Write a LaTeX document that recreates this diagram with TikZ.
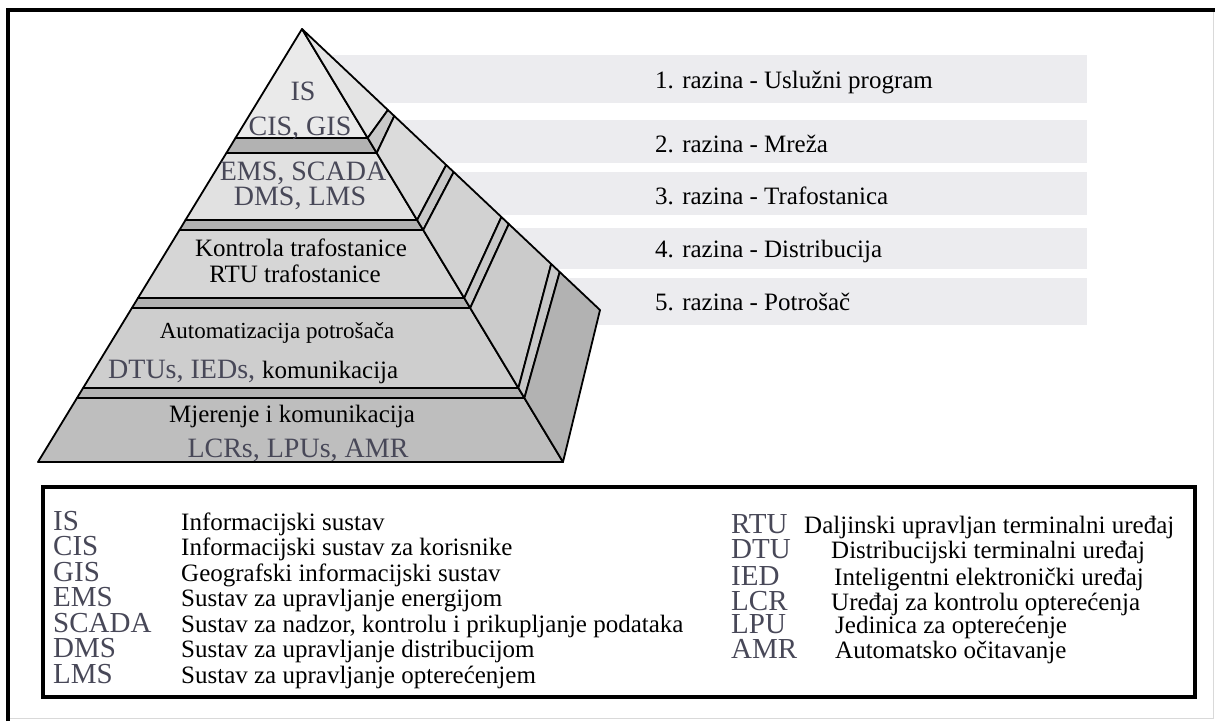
\documentclass[tikz,border=0pt]{standalone}
\usepackage{fontspec}
\setmainfont{Liberation Serif}
\usepackage{tikz}

\definecolor{barGray}{RGB}{236,236,239}
\definecolor{acroGray}{RGB}{72,72,88}
\definecolor{tierA}{RGB}{234,234,234}
\definecolor{tierB}{RGB}{225,225,225}
\definecolor{tierC}{RGB}{214,214,214}
\definecolor{tierD}{RGB}{206,206,206}
\definecolor{tierE}{RGB}{190,190,190}
\definecolor{bandGray}{RGB}{178,178,178}
\definecolor{sideA}{RGB}{228,228,228}
\definecolor{sideB}{RGB}{219,219,219}
\definecolor{sideC}{RGB}{210,210,210}
\definecolor{sideD}{RGB}{203,203,203}
\definecolor{sideE}{RGB}{178,178,178}
\definecolor{stripGray}{RGB}{200,200,200}

\newcommand{\acrofont}{\fontsize{28}{30}\selectfont}
\newcommand{\bodyfont}{\fontsize{25}{27}\selectfont}
\newcommand{\autofont}{\fontsize{23}{25}\selectfont}
\newcommand{\keyfont}{\fontsize{29}{31}\selectfont}

\begin{document}
\begin{tikzpicture}[x=1pt, y=-1pt,
  acro/.style={font=\acrofont, text=acroGray, inner sep=0pt, anchor=base},
  lbl/.style={font=\bodyfont, text=black, inner sep=0pt, anchor=base},
  lvl/.style={font=\bodyfont, text=black, inner sep=0pt, anchor=base west},
  keyabbr/.style={font=\keyfont, text=acroGray, inner sep=0pt, anchor=base west},
  keytext/.style={font=\bodyfont, text=black, inner sep=0pt, anchor=base west},
  edge/.style={draw=black, line width=1.8pt, line join=round}]
  \useasboundingbox (0,0) rectangle (1215,721);
  \fill[white] (0,0) rectangle (1215,721);
  % outer frame
  \draw[black!15, line width=1pt] (1213,10) -- (1213,718) -- (8,718);
  \draw[black, line width=3.5pt] (8,721) -- (8,10) -- (1215,10);
  % level bars behind the pyramid
  \fill[barGray] (320,55) rectangle (1087,103);
  \fill[barGray] (320,120) rectangle (1087,163);
  \fill[barGray] (320,172) rectangle (1087,215);
  \fill[barGray] (320,228) rectangle (1087,269);
  \fill[barGray] (320,278) rectangle (1087,325);
  % pyramid points
  \coordinate (apex) at (302,29);
  \coordinate (L1a) at (235.5,138); \coordinate (R1a) at (367.7,138);
  \coordinate (L1b) at (226.4,153); \coordinate (R1b) at (376.7,153);
  \coordinate (L2a) at (185.5,220); \coordinate (R2a) at (417.1,220);
  \coordinate (L2b) at (179.5,230); \coordinate (R2b) at (423.2,230);
  \coordinate (L3a) at (138,298);   \coordinate (R3a) at (464.2,298);
  \coordinate (L3b) at (131.9,308); \coordinate (R3b) at (470.2,308);
  \coordinate (L4a) at (83.1,388);  \coordinate (R4a) at (518.4,388);
  \coordinate (L4b) at (77,398);    \coordinate (R4b) at (524.4,398);
  \coordinate (Lend) at (38,462);   \coordinate (Rend) at (563,462);
  \coordinate (B1a) at (387.9,110); \coordinate (B1b) at (394.3,116);
  \coordinate (B2a) at (446.2,165); \coordinate (B2b) at (453.7,172);
  \coordinate (B3a) at (501.4,217); \coordinate (B3b) at (508.8,224);
  \coordinate (B4a) at (551.2,264); \coordinate (B4b) at (559.7,272);
  \coordinate (Bend) at (600,310);
  % front face
  \filldraw[edge, fill=tierA] (apex) -- (R1a) -- (L1a) -- cycle;
  \filldraw[edge, fill=bandGray] (L1a) -- (R1a) -- (R1b) -- (L1b) -- cycle;
  \filldraw[edge, fill=tierB] (L1b) -- (R1b) -- (R2a) -- (L2a) -- cycle;
  \filldraw[edge, fill=bandGray] (L2a) -- (R2a) -- (R2b) -- (L2b) -- cycle;
  \filldraw[edge, fill=tierC] (L2b) -- (R2b) -- (R3a) -- (L3a) -- cycle;
  \filldraw[edge, fill=bandGray] (L3a) -- (R3a) -- (R3b) -- (L3b) -- cycle;
  \filldraw[edge, fill=tierD] (L3b) -- (R3b) -- (R4a) -- (L4a) -- cycle;
  \filldraw[edge, fill=bandGray] (L4a) -- (R4a) -- (R4b) -- (L4b) -- cycle;
  \filldraw[edge, fill=tierE] (L4b) -- (R4b) -- (Rend) -- (Lend) -- cycle;
  % side face
  \filldraw[edge, fill=sideA] (apex) -- (B1a) -- (R1a) -- cycle;
  \filldraw[edge, fill=stripGray] (R1a) -- (B1a) -- (B1b) -- (R1b) -- cycle;
  \filldraw[edge, fill=sideB] (R1b) -- (B1b) -- (B2a) -- (R2a) -- cycle;
  \filldraw[edge, fill=stripGray] (R2a) -- (B2a) -- (B2b) -- (R2b) -- cycle;
  \filldraw[edge, fill=sideC] (R2b) -- (B2b) -- (B3a) -- (R3a) -- cycle;
  \filldraw[edge, fill=stripGray] (R3a) -- (B3a) -- (B3b) -- (R3b) -- cycle;
  \filldraw[edge, fill=sideD] (R3b) -- (B3b) -- (B4a) -- (R4a) -- cycle;
  \filldraw[edge, fill=stripGray] (R4a) -- (B4a) -- (B4b) -- (R4b) -- cycle;
  \filldraw[edge, fill=sideE] (R4b) -- (B4b) -- (Bend) -- (Rend) -- cycle;
  % pyramid texts
  \node[acro] (isT) at (303,100) {IS};
  \node[acro] (cisT) at (300,135) {CIS, GIS};
  \node[acro] (emsT) at (303,180) {EMS, SCADA};
  \node[acro] (dmsT) at (300,205) {DMS, LMS};
  \node[lbl] (kontT) at (301,256) {Kontrola trafostanice};
  \node[lbl] (rtuT) at (295,282) {RTU trafostanice};
  \node[lbl, font=\autofont] (autoT) at (277,338) {Automatizacija potrošača};
  \node[acro, anchor=base west] (dtuT) at (108,378) {DTUs, IEDs, {\bodyfont\color{black}komunikacija}};
  \node[lbl] (mjerT) at (292,422) {Mjerenje i komunikacija};
  \node[acro] (lcrT) at (298,457) {LCRs, LPUs, AMR};
  % level labels
  \node[lvl] (lvlA) at (655,88) {1. razina - Uslužni program};
  \node[lvl] (lvlB) at (655,152) {2. razina - Mreža};
  \node[lvl] (lvlC) at (655,204) {3. razina - Trafostanica};
  \node[lvl] (lvlD) at (655,257) {4. razina - Distribucija};
  \node[lvl] (lvlE) at (655,310) {5. razina - Potrošač};
  % legend
  \draw[black, line width=3.5pt] (43,487) rectangle (1195,697);
  \node[keyabbr] (kIS) at (53,530) {IS};
  \node[keyabbr] (kCIS) at (53,555) {CIS};
  \node[keyabbr] (kGIS) at (53,581) {GIS};
  \node[keyabbr] (kEMS) at (53,606) {EMS};
  \node[keyabbr] (kSCADA) at (53,632) {SCADA};
  \node[keyabbr] (kDMS) at (53,657) {DMS};
  \node[keyabbr] (kLMS) at (53,683) {LMS};
  \node[keytext] (dIS) at (181,530) {Informacijski sustav};
  \node[keytext] (dCIS) at (181,555) {Informacijski sustav za korisnike};
  \node[keytext] (dGIS) at (181,581) {Geografski informacijski sustav};
  \node[keytext] (dEMS) at (181,606) {Sustav za upravljanje energijom};
  \node[keytext] (dSCADA) at (181,632) {Sustav za nadzor, kontrolu i prikupljanje podataka};
  \node[keytext] (dDMS) at (181,657) {Sustav za upravljanje distribucijom};
  \node[keytext] (dLMS) at (181,683) {Sustav za upravljanje opterećenjem};
  \node[keyabbr] (kRTU) at (731,533) {RTU};
  \node[keyabbr] (kDTU) at (731,558) {DTU};
  \node[keyabbr] (kIED) at (731,585) {IED};
  \node[keyabbr] (kLCR) at (731,610) {LCR};
  \node[keyabbr] (kLPU) at (731,633) {LPU};
  \node[keyabbr] (kAMR) at (731,658) {AMR};
  \node[keytext] (dRTU) at (804,533) {Daljinski upravljan terminalni uređaj};
  \node[keytext] (dDTU) at (831,558) {Distribucijski terminalni uređaj};
  \node[keytext] (dIED) at (834,585) {Inteligentni elektronički uređaj};
  \node[keytext] (dLCR) at (831,610) {Uređaj za kontrolu opterećenja};
  \node[keytext] (dLPU) at (835,633) {Jedinica za opterećenje};
  \node[keytext] (dAMR) at (835,658) {Automatsko očitavanje};
\end{tikzpicture}
\end{document}
